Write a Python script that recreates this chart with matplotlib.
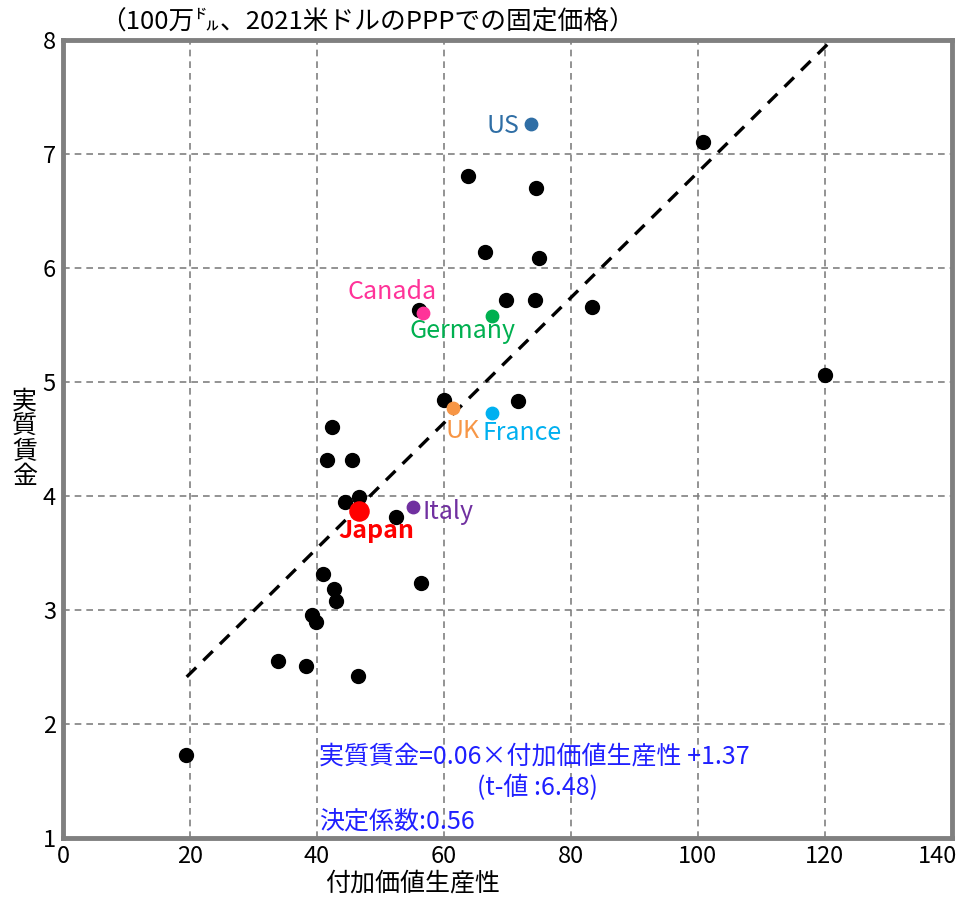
import numpy as np
import matplotlib.pyplot as plt
import matplotlib.transforms as mtransforms

plt.rcParams['font.family'] = ['Noto Sans CJK JP', 'DejaVu Sans']

# その他の国（黒点）
other_x = [19.4, 33.9, 38.3, 46.5, 39.2, 39.8, 40.9, 42.7, 43.0, 56.4, 52.4, 44.4,
           46.6, 41.6, 45.5, 42.4, 60.0, 71.7, 120.0, 56.1, 69.8, 74.3, 83.3, 66.5,
           75.0, 63.8, 74.5, 100.9]
other_y = [1.73, 2.55, 2.51, 2.42, 2.96, 2.89, 3.32, 3.18, 3.08, 3.24, 3.82, 3.95,
           3.99, 4.32, 4.32, 4.61, 4.84, 4.83, 5.06, 5.63, 5.72, 5.72, 5.66, 6.14,
           6.09, 6.81, 6.70, 7.11]

# 主要国
countries = ['US', 'Canada', 'Germany', 'UK', 'France', 'Italy']
country_x = [73.7, 56.7, 67.6, 61.4, 67.6, 55.1]
country_y = [7.27, 5.61, 5.58, 4.77, 4.73, 3.90]
country_colors = ['#2f6ea5', '#ff3399', '#00b050', '#f79646', '#00b0f0', '#7030a0']
label_offsets = [(-8, -1.5), (-22, 15), (-21, -11), (-5, -16), (-6.5, -14.5), (7, -3)]
label_ha = ['right', 'center', 'center', 'left', 'left', 'left']

japan_x, japan_y = 46.6, 3.87

# 回帰直線
fit_x = [19.5, 120.5]
slope, intercept = 0.055, 1.34

fs = 18

fig = plt.figure(figsize=(9.68, 8.97), dpi=100)
ax = fig.add_axes([0.065, 0.066, 0.918, 0.889])

ax.grid(True, color='#808080', linestyle=(0, (4, 3)), linewidth=1.2)
ax.set_axisbelow(True)

fx = np.array(fit_x)
ax.plot(fx, slope * fx + intercept, color='black', linestyle=(0, (4, 3)), linewidth=2.4, zorder=2)

ax.scatter(other_x, other_y, s=100, color='black', zorder=3)
for name, x, y, c, off, ha in zip(countries, country_x, country_y, country_colors, label_offsets, label_ha):
    ax.scatter([x], [y], s=80, color=c, zorder=4)
    ax.annotate(name, (x, y), xytext=off, textcoords='offset points',
                ha=ha, va='center', color=c, fontsize=fs)
ax.scatter([japan_x], [japan_y], s=190, color='red', zorder=4)
ax.annotate('Japan', (japan_x, japan_y), xytext=(13, -14.5), textcoords='offset points',
            ha='center', va='center', color='red', fontsize=fs, fontweight='bold')

ax.set_xlim(0, 140)
ax.set_ylim(1, 8)
ax.set_xticks(range(0, 141, 20))
ax.set_yticks(range(1, 9))
ax.tick_params(length=0, labelsize=17, pad=5)
for s in ax.spines.values():
    s.set_color('#808080')
    s.set_linewidth(3.5)

# 最後の目盛りラベル(140)が切れないよう少し左へ
last = ax.get_xticklabels()[-1]
last.set_transform(last.get_transform() + mtransforms.ScaledTranslation(-10 / 72, 0, fig.dpi_scale_trans))

ax.set_xlabel('付加価値生産性', fontsize=fs, labelpad=0)
ax.xaxis.set_label_coords(0.393, -0.041, transform=ax.transAxes)
ax.xaxis.label.set_va('top')
ax.set_ylabel('実\n質\n賃\n金', rotation=0, fontsize=fs, linespacing=0.95, va='center')
ax.yaxis.set_label_coords(-0.043, 0.5)

fig.text(0.103, 0.975, '（100万㌦、2021米ドルのPPPでの固定価格）', fontsize=18.5, va='center')

blue = '#2020ff'
ax.text(40.3, 1.71, '実質賃金=0.06×付加価値生産性 +1.37', color=blue, fontsize=fs, va='center')
ax.text(74.7, 1.44, '(t-値 :6.48)', color=blue, fontsize=fs, va='center', ha='center')
ax.text(40.3, 1.14, '決定係数:0.56', color=blue, fontsize=fs, va='center')

fig.savefig('out.png', dpi=100)
